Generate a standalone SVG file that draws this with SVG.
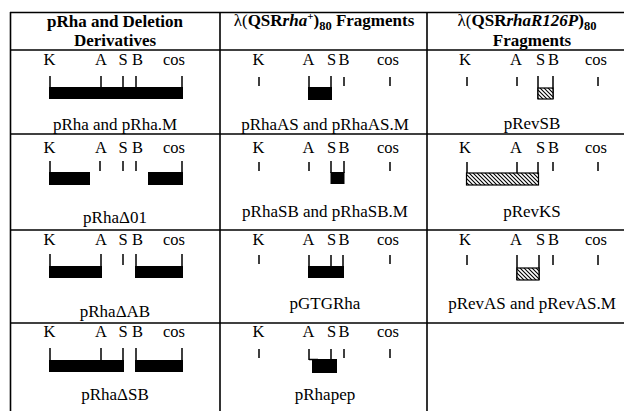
<svg xmlns="http://www.w3.org/2000/svg" width="626" height="411" viewBox="0 0 626 411">
<style>
text{font-family:"Liberation Serif","Times New Roman",serif;fill:#000}
.h{font-size:17px;font-weight:bold;text-anchor:middle}
.l{font-size:16.5px;text-anchor:middle}
.c{font-size:17px;text-anchor:middle}
.g{stroke:#000;stroke-width:1.6;fill:none}
.t{stroke:#000;stroke-width:1.5;fill:none}
.b{fill:#000}
.x{fill:url(#hatch);stroke:#000;stroke-width:1.2}
</style>
<defs>
<pattern id="hatch" patternUnits="userSpaceOnUse" width="4" height="4">
<rect width="4" height="4" fill="#fff"/>
<path d="M-1,-1 L5,5 M-1,3 L1,5 M3,-1 L5,1" stroke="#000" stroke-width="1.1"/>
</pattern>
</defs>
<g id="grid" class="g">
<line x1="10" y1="12.5" x2="624" y2="12.5"/>
<line x1="10" y1="50" x2="624" y2="50"/>
<line x1="10" y1="134" x2="624" y2="134"/>
<line x1="10" y1="230" x2="624" y2="230"/>
<line x1="10" y1="323" x2="624" y2="323"/>
<line x1="10.5" y1="12" x2="10.5" y2="411"/>
<line x1="220" y1="12" x2="220" y2="411"/>
<line x1="427" y1="12" x2="427" y2="411"/>
</g>
<g id="headers">
<text class="h" x="115" y="27">pRha and Deletion</text>
<text class="h" x="115" y="45.5">Derivatives</text>
<text class="h" x="324" y="26"><tspan font-weight="normal">λ(</tspan>QSR<tspan font-style="italic">rha</tspan><tspan font-size="11" dy="-6">+</tspan><tspan dy="6">)</tspan><tspan font-size="12.5" dy="4">80</tspan><tspan dy="-4"> Fragments</tspan></text>
<text class="h" x="527" y="26"><tspan font-weight="normal">λ(</tspan>QSR<tspan font-style="italic">rhaR126P</tspan>)<tspan font-size="12.5" dy="4">80</tspan></text>
<text class="h" x="532" y="45.5">Fragments</text>
</g>
<!-- Column 1 -->
<g id="pRha">
<g class="l"><text x="49.5" y="65">K</text><text x="101" y="65">A</text><text x="123" y="65">S</text><text x="137.5" y="65">B</text><text x="174" y="65">cos</text></g>
<path class="t" d="M50,76V88M101,76V88M123,76V88M136,76V88M182,76V88"/>
<rect class="b" x="49" y="87" width="134" height="12"/>
<text class="c" x="115" y="130">pRha and pRha.M</text>
</g>
<g id="pRhaD01">
<g class="l"><text x="49.5" y="153">K</text><text x="101" y="153">A</text><text x="123" y="153">S</text><text x="137.5" y="153">B</text><text x="174" y="153">cos</text></g>
<path class="t" d="M50,161V173M100,161V171M123,161V171M136,161V171M182,161V173"/>
<rect class="b" x="49" y="172" width="41" height="13"/>
<rect class="b" x="148" y="172" width="35" height="13"/>
<text class="c" x="115" y="223">pRhaΔ01</text>
</g>
<g id="pRhaDAB">
<g class="l"><text x="49.5" y="245">K</text><text x="101" y="245">A</text><text x="123" y="245">S</text><text x="137.5" y="245">B</text><text x="174" y="245">cos</text></g>
<path class="t" d="M50,254V267M101,254V267M123,254V265M136,254V267M182,254V267"/>
<rect class="b" x="49" y="266" width="53" height="12"/>
<rect class="b" x="135" y="266" width="48" height="12"/>
<text class="c" x="115" y="317">pRhaΔAB</text>
</g>
<g id="pRhaDSB">
<g class="l"><text x="49.5" y="337">K</text><text x="101" y="337">A</text><text x="123" y="337">S</text><text x="137.5" y="337">B</text><text x="174" y="337">cos</text></g>
<path class="t" d="M50,348V361M101,348V361M123,348V361M136,348V361M182,348V361"/>
<rect class="b" x="49" y="360" width="75" height="12"/>
<rect class="b" x="135" y="360" width="48" height="12"/>
<text class="c" x="115" y="400">pRhaΔSB</text>
</g>
<!-- Column 2 -->
<g id="pRhaAS">
<g class="l"><text x="258.5" y="65">K</text><text x="308.5" y="65">A</text><text x="331.5" y="65">S</text><text x="344" y="65">B</text><text x="388" y="65">cos</text></g>
<path class="t" d="M259,77V86M309,76V88M331,76V88M344,77V86M390,77V86"/>
<rect class="b" x="308" y="87" width="24" height="13"/>
<text class="c" x="325" y="130">pRhaAS and pRhaAS.M</text>
</g>
<g id="pRhaSB">
<g class="l"><text x="258.5" y="153">K</text><text x="308.5" y="153">A</text><text x="331.5" y="153">S</text><text x="344" y="153">B</text><text x="388" y="153">cos</text></g>
<path class="t" d="M259,162V171M309,162V171M331,161V173M344,161V173M390,162V171"/>
<rect class="b" x="330.5" y="172" width="14" height="12"/>
<text class="c" x="325" y="217">pRhaSB and pRhaSB.M</text>
</g>
<g id="pGTGRha">
<g class="l"><text x="258.5" y="245">K</text><text x="308.5" y="245">A</text><text x="331.5" y="245">S</text><text x="344" y="245">B</text><text x="388" y="245">cos</text></g>
<path class="t" d="M259,255V264M309,255V267M331,255V267M343,255V267M390,255V264"/>
<rect class="b" x="308" y="266" width="36" height="12"/>
<text class="c" x="325" y="309">pGTGRha</text>
</g>
<g id="pRhapep">
<g class="l"><text x="258.5" y="337">K</text><text x="308.5" y="337">A</text><text x="331.5" y="337">S</text><text x="344" y="337">B</text><text x="388" y="337">cos</text></g>
<path class="t" d="M259,349V358M309,349V360M331,349V362M344,349V358M390,349V358M309,359.5H318"/>
<rect class="b" x="312" y="359" width="25" height="14"/>
<text class="c" x="325" y="400">pRhapep</text>
</g>
<!-- Column 3 -->
<g id="pRevSB">
<g class="l"><text x="465" y="65">K</text><text x="516" y="65">A</text><text x="540.5" y="65">S</text><text x="553.5" y="65">B</text><text x="596" y="65">cos</text></g>
<path class="t" d="M467,77V86M517,77V86M598,77V86M538,76V99M553,76V99"/>
<rect class="x" x="538" y="88" width="15" height="11"/>
<text class="c" x="532" y="129">pRevSB</text>
</g>
<g id="pRevKS">
<g class="l"><text x="465" y="153">K</text><text x="516" y="153">A</text><text x="540.5" y="153">S</text><text x="553.5" y="153">B</text><text x="596" y="153">cos</text></g>
<path class="t" d="M467,162V174M517,162V174M538,162V174M553,162V171M598,162V171"/>
<rect class="x" x="466.5" y="173" width="72" height="12"/>
<text class="c" x="532" y="217">pRevKS</text>
</g>
<g id="pRevAS">
<g class="l"><text x="465" y="245">K</text><text x="516" y="245">A</text><text x="540.5" y="245">S</text><text x="553.5" y="245">B</text><text x="596" y="245">cos</text></g>
<path class="t" d="M467,255V265M553,255V265M598,255V265M517,255V280M539,255V280"/>
<rect class="x" x="517" y="268" width="22" height="12"/>
<text class="c" x="532" y="309">pRevAS and pRevAS.M</text>
</g>
</svg>
